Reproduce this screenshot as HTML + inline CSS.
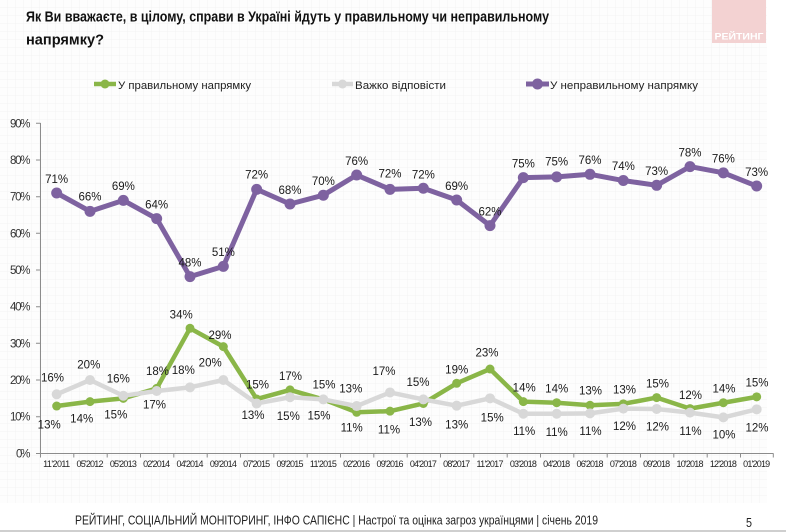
<!DOCTYPE html>
<html><head><meta charset="utf-8"><style>
html,body{margin:0;padding:0;background:#fff;}
svg{display:block;}
text{font-family:"Liberation Sans","DejaVu Sans",sans-serif;}
</style></head><body>
<svg width="786" height="532" viewBox="0 0 786 532" xmlns="http://www.w3.org/2000/svg">
<defs>
<pattern id="g" width="8" height="8" patternUnits="userSpaceOnUse">
<rect width="8" height="8" fill="#fdfdfd"/>
<path d="M8 0V8M0 8H8" stroke="#f1f1f1" stroke-width="0.8" fill="none"/>
</pattern>
</defs>
<rect x="0" y="0" width="786" height="532" fill="#fff"/>
<rect x="0" y="0" width="767" height="503" fill="url(#g)"/>
<rect x="0" y="530" width="786" height="2" fill="#cfcfcf"/>

<!-- logo -->
<rect x="712" y="0" width="54" height="43" fill="#f3d2d2"/>
<text x="739" y="39.5" font-size="9" font-weight="bold" fill="#fff" text-anchor="middle" textLength="49" lengthAdjust="spacingAndGlyphs">РЕЙТИНГ</text>

<!-- title -->
<text x="26" y="21.5" font-size="15" font-weight="bold" fill="#111" textLength="523" lengthAdjust="spacingAndGlyphs">Як Ви вважаєте, в цілому, справи в Україні йдуть у правильному чи неправильному</text>
<text x="26" y="44.5" font-size="15" font-weight="bold" fill="#111" textLength="78" lengthAdjust="spacingAndGlyphs">напрямку?</text>

<!-- legend -->
<g>
<line x1="94" y1="84" x2="116" y2="84" stroke="#8ab648" stroke-width="4.5"/>
<circle cx="105" cy="84" r="4.5" fill="#8ab648"/>
<text x="118" y="89" font-size="11" fill="#222" textLength="133" lengthAdjust="spacingAndGlyphs">У правильному напрямку</text>
<line x1="332" y1="84" x2="353" y2="84" stroke="#d8d8d8" stroke-width="4.5"/>
<circle cx="342.5" cy="84" r="4.5" fill="#d8d8d8"/>
<text x="355" y="89" font-size="11" fill="#222" textLength="91" lengthAdjust="spacingAndGlyphs">Важко відповісти</text>
<line x1="526" y1="84" x2="549" y2="84" stroke="#7e62a0" stroke-width="5"/>
<circle cx="537.5" cy="84" r="5.5" fill="#7e62a0"/>
<text x="550" y="89" font-size="11" fill="#222" textLength="148" lengthAdjust="spacingAndGlyphs">У неправильному напрямку</text>
</g>

<!-- axes -->
<g stroke="#8c8c8c" stroke-width="1" fill="none">
<line x1="40.5" y1="123" x2="40.5" y2="453.5"/>
<line x1="40" y1="453.5" x2="773.5" y2="453.5"/>
<path d="M36 123.3H40.5M36 160H40.5M36 196.7H40.5M36 233.3H40.5M36 270H40.5M36 306.7H40.5M36 343.3H40.5M36 380H40.5M36 416.7H40.5M36 453.5H40.5"/>
<path d="M40.5 453.5V457.5M73.8 453.5V457.5M107.2 453.5V457.5M140.5 453.5V457.5M173.8 453.5V457.5M207.2 453.5V457.5M240.5 453.5V457.5M273.8 453.5V457.5M307.2 453.5V457.5M340.5 453.5V457.5M373.8 453.5V457.5M407.2 453.5V457.5M440.5 453.5V457.5M473.8 453.5V457.5M507.2 453.5V457.5M540.5 453.5V457.5M573.8 453.5V457.5M607.2 453.5V457.5M640.5 453.5V457.5M673.8 453.5V457.5M707.2 453.5V457.5M740.5 453.5V457.5M773.3 453.5V457.5"/>
</g>

<!-- y labels -->
<g font-size="11.5" fill="#333" text-anchor="end" lengthAdjust="spacingAndGlyphs">
<text x="30.5" y="457.3" textLength="14.5">0%</text>
<text x="30.5" y="420.7" textLength="20.5">10%</text>
<text x="30.5" y="384" textLength="20.5">20%</text>
<text x="30.5" y="347.3" textLength="20.5">30%</text>
<text x="30.5" y="310.7" textLength="20.5">40%</text>
<text x="30.5" y="274" textLength="20.5">50%</text>
<text x="30.5" y="237.3" textLength="20.5">60%</text>
<text x="30.5" y="200.7" textLength="20.5">70%</text>
<text x="30.5" y="164" textLength="20.5">80%</text>
<text x="30.5" y="127.3" textLength="20.5">90%</text>
</g>

<!-- x labels -->
<g font-size="9" fill="#222" text-anchor="middle" lengthAdjust="spacingAndGlyphs">
<text x="56.67" y="467" textLength="27">11'2011</text>
<text x="90" y="467" textLength="27">05'2012</text>
<text x="123.33" y="467" textLength="27">05'2013</text>
<text x="156.67" y="467" textLength="27">02'2014</text>
<text x="190" y="467" textLength="27">04'2014</text>
<text x="223.33" y="467" textLength="27">09'2014</text>
<text x="256.67" y="467" textLength="27">07'2015</text>
<text x="290" y="467" textLength="27">09'2015</text>
<text x="323.33" y="467" textLength="27">11'2015</text>
<text x="356.67" y="467" textLength="27">02'2016</text>
<text x="390" y="467" textLength="27">09'2016</text>
<text x="423.33" y="467" textLength="27">04'2017</text>
<text x="456.67" y="467" textLength="27">08'2017</text>
<text x="490" y="467" textLength="27">11'2017</text>
<text x="523.33" y="467" textLength="27">03'2018</text>
<text x="556.67" y="467" textLength="27">04'2018</text>
<text x="590" y="467" textLength="27">06'2018</text>
<text x="623.33" y="467" textLength="27">07'2018</text>
<text x="656.67" y="467" textLength="27">09'2018</text>
<text x="690" y="467" textLength="27">10'2018</text>
<text x="723.33" y="467" textLength="27">12'2018</text>
<text x="756.67" y="467" textLength="27">01'2019</text>
</g>

<!-- green series -->
<g fill="#8ab648">
<polyline fill="none" stroke="#8ab648" stroke-width="4.5" stroke-linejoin="round" points="56.67,406.03 90,401.63 123.33,398.33 156.67,388.43 190,328.3 223.33,346.63 256.67,399.06 290,389.9 323.33,399.43 356.67,412.26 390,411.16 423.33,403.46 456.67,383.3 490,369 523.33,401.63 556.67,402.73 590,405.3 623.33,403.83 656.67,397.6 690,408.6 723.33,402.73 756.67,396.86"/>
<circle cx="56.67" cy="406.03" r="4.5"/><circle cx="90" cy="401.63" r="4.5"/><circle cx="123.33" cy="398.33" r="4.5"/><circle cx="156.67" cy="388.43" r="4.5"/><circle cx="190" cy="328.3" r="4.5"/><circle cx="223.33" cy="346.63" r="4.5"/><circle cx="256.67" cy="399.06" r="4.5"/><circle cx="290" cy="389.9" r="4.5"/><circle cx="323.33" cy="399.43" r="4.5"/><circle cx="356.67" cy="412.26" r="4.5"/><circle cx="390" cy="411.16" r="4.5"/><circle cx="423.33" cy="403.46" r="4.5"/><circle cx="456.67" cy="383.3" r="4.5"/><circle cx="490" cy="369" r="4.5"/><circle cx="523.33" cy="401.63" r="4.5"/><circle cx="556.67" cy="402.73" r="4.5"/><circle cx="590" cy="405.3" r="4.5"/><circle cx="623.33" cy="403.83" r="4.5"/><circle cx="656.67" cy="397.6" r="4.5"/><circle cx="690" cy="408.6" r="4.5"/><circle cx="723.33" cy="402.73" r="4.5"/><circle cx="756.67" cy="396.86" r="4.5"/>
</g>

<!-- gray series -->
<g fill="#d8d8d8">
<polyline fill="none" stroke="#d8d8d8" stroke-width="4.5" stroke-linejoin="round" points="56.67,394.3 90,380 123.33,395.76 156.67,391 190,387.33 223.33,380 256.67,403.46 290,397.23 323.33,399.43 356.67,406.03 390,392.46 423.33,399.43 456.67,405.66 490,398.33 523.33,413.73 556.67,413.73 590,413.36 623.33,408.6 656.67,408.96 690,412.63 723.33,417.4 756.67,409.33"/>
<circle cx="56.67" cy="394.3" r="5"/><circle cx="90" cy="380" r="5"/><circle cx="123.33" cy="395.76" r="5"/><circle cx="156.67" cy="391" r="5"/><circle cx="190" cy="387.33" r="5"/><circle cx="223.33" cy="380" r="5"/><circle cx="256.67" cy="403.46" r="5"/><circle cx="290" cy="397.23" r="5"/><circle cx="323.33" cy="399.43" r="5"/><circle cx="356.67" cy="406.03" r="5"/><circle cx="390" cy="392.46" r="5"/><circle cx="423.33" cy="399.43" r="5"/><circle cx="456.67" cy="405.66" r="5"/><circle cx="490" cy="398.33" r="5"/><circle cx="523.33" cy="413.73" r="5"/><circle cx="556.67" cy="413.73" r="5"/><circle cx="590" cy="413.36" r="5"/><circle cx="623.33" cy="408.6" r="5"/><circle cx="656.67" cy="408.96" r="5"/><circle cx="690" cy="412.63" r="5"/><circle cx="723.33" cy="417.4" r="5"/><circle cx="756.67" cy="409.33" r="5"/>
</g>

<!-- purple series -->
<g fill="#7e62a0">
<polyline fill="none" stroke="#7e62a0" stroke-width="5" stroke-linejoin="round" points="56.67,193 90,211.33 123.33,200.33 156.67,218.67 190,276.6 223.33,266.33 256.67,189.33 290,204 323.33,195.2 356.67,175.03 390,189.33 423.33,188.23 456.67,199.96 490,225.63 523.33,177.6 556.67,176.86 590,174.3 623.33,180.53 656.67,185.3 690,166.6 723.33,172.83 756.67,186.03"/>
<circle cx="56.67" cy="193" r="5.5"/><circle cx="90" cy="211.33" r="5.5"/><circle cx="123.33" cy="200.33" r="5.5"/><circle cx="156.67" cy="218.67" r="5.5"/><circle cx="190" cy="276.6" r="5.5"/><circle cx="223.33" cy="266.33" r="5.5"/><circle cx="256.67" cy="189.33" r="5.5"/><circle cx="290" cy="204" r="5.5"/><circle cx="323.33" cy="195.2" r="5.5"/><circle cx="356.67" cy="175.03" r="5.5"/><circle cx="390" cy="189.33" r="5.5"/><circle cx="423.33" cy="188.23" r="5.5"/><circle cx="456.67" cy="199.96" r="5.5"/><circle cx="490" cy="225.63" r="5.5"/><circle cx="523.33" cy="177.6" r="5.5"/><circle cx="556.67" cy="176.86" r="5.5"/><circle cx="590" cy="174.3" r="5.5"/><circle cx="623.33" cy="180.53" r="5.5"/><circle cx="656.67" cy="185.3" r="5.5"/><circle cx="690" cy="166.6" r="5.5"/><circle cx="723.33" cy="172.83" r="5.5"/><circle cx="756.67" cy="186.03" r="5.5"/>
</g>

<!-- data labels -->
<g font-size="11.5" fill="#1a1a1a" text-anchor="middle">
<!-- purple -->
<text x="56.67" y="183">71%</text>
<text x="90" y="200.7">66%</text>
<text x="123.33" y="190">69%</text>
<text x="156.67" y="208.3">64%</text>
<text x="190" y="266.7">48%</text>
<text x="223.33" y="256">51%</text>
<text x="256.67" y="178.3">72%</text>
<text x="290" y="194">68%</text>
<text x="323.33" y="185">70%</text>
<text x="356.67" y="165">76%</text>
<text x="390" y="177.3">72%</text>
<text x="423.33" y="178.3">72%</text>
<text x="456.67" y="190">69%</text>
<text x="490" y="215.7">62%</text>
<text x="523.33" y="167.7">75%</text>
<text x="556.67" y="165.7">75%</text>
<text x="590" y="164">76%</text>
<text x="623.33" y="170">74%</text>
<text x="656.67" y="175">73%</text>
<text x="690" y="156.7">78%</text>
<text x="723.33" y="162.7">76%</text>
<text x="756.67" y="176">73%</text>
<!-- green -->
<text x="49.2" y="428.3">13%</text>
<text x="81.7" y="422.7">14%</text>
<text x="115.8" y="418.3">15%</text>
<text x="157.5" y="375">18%</text>
<text x="181.2" y="318.3">34%</text>
<text x="220" y="339">29%</text>
<text x="257.5" y="388.3">15%</text>
<text x="290.5" y="380">17%</text>
<text x="324" y="388.3">15%</text>
<text x="351.7" y="431.7">11%</text>
<text x="389" y="433.3">11%</text>
<text x="420.5" y="426">13%</text>
<text x="456.7" y="373.3">19%</text>
<text x="487" y="356.7">23%</text>
<text x="524.2" y="391.7">14%</text>
<text x="556.7" y="392.3">14%</text>
<text x="590.5" y="394.3">13%</text>
<text x="624.5" y="393.3">13%</text>
<text x="657.5" y="387.3">15%</text>
<text x="690.5" y="399">12%</text>
<text x="724" y="392.7">14%</text>
<text x="757" y="386.7">15%</text>
<!-- gray -->
<text x="52.5" y="381.7">16%</text>
<text x="88.8" y="368.3">20%</text>
<text x="118.3" y="382.7">16%</text>
<text x="154.5" y="408.3">17%</text>
<text x="183.3" y="374">18%</text>
<text x="210.2" y="366.7">20%</text>
<text x="253" y="419">13%</text>
<text x="288.3" y="420">15%</text>
<text x="319" y="419.3">15%</text>
<text x="350.8" y="392.7">13%</text>
<text x="384" y="375">17%</text>
<text x="418" y="386">15%</text>
<text x="456.7" y="428.3">13%</text>
<text x="492.2" y="421.7">15%</text>
<text x="524.2" y="435">11%</text>
<text x="556.7" y="436">11%</text>
<text x="590.5" y="435">11%</text>
<text x="624.5" y="430">12%</text>
<text x="657.5" y="430.7">12%</text>
<text x="690.5" y="435">11%</text>
<text x="724" y="438.3">10%</text>
<text x="757" y="431.7">12%</text>
</g>

<!-- footer -->
<text x="75" y="524.5" font-size="12.5" fill="#222" textLength="523" lengthAdjust="spacingAndGlyphs">РЕЙТИНГ, СОЦІАЛЬНИЙ МОНІТОРИНГ, ІНФО САПІЄНС | Настрої та оцінка загроз українцями | січень 2019</text>
<text x="749" y="527" font-size="13" fill="#222" text-anchor="middle" textLength="6" lengthAdjust="spacingAndGlyphs">5</text>
</svg>
</body></html>
